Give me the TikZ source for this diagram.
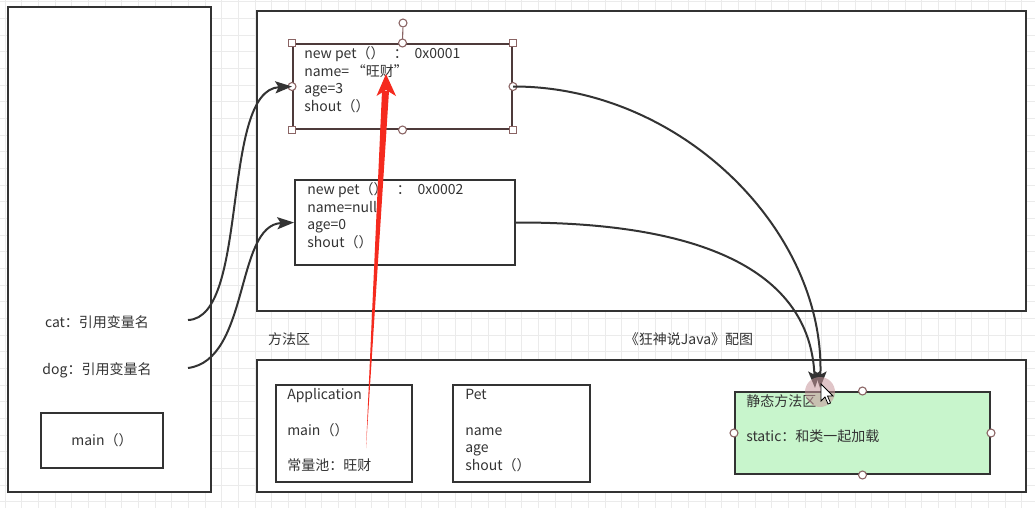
\documentclass[tikz,border=0pt]{standalone}
\usepackage{fontspec}
\setmainfont{Noto Sans CJK SC}
\usetikzlibrary{arrows.meta,fit}
\definecolor{ink}{HTML}{333333}
\definecolor{gridc}{HTML}{EBEBEB}
\definecolor{selc}{HTML}{4E3A3A}
\definecolor{handc}{HTML}{8A6464}
\definecolor{greenf}{RGB}{200,245,204}
\definecolor{redc}{HTML}{F52A1E}
\definecolor{pinkc}{RGB}{200,150,155}
\begin{document}
\begin{tikzpicture}[x=0.75pt,y=-0.75pt,
  font=\fontsize{10.5}{13.2}\selectfont, text=ink,
  box/.style={draw=ink, line width=1.5pt, fill=white, rectangle, inner sep=0pt},
  txt/.style={anchor=north west, inner sep=0pt, align=left},
  lbl/.style={inner sep=0pt},
  conn/.style={draw=ink, line width=1.5pt, -{Stealth[length=12.5pt,width=9pt,inset=2.5pt]}},
  handle/.style={draw=handc, fill=white, line width=0.8pt, circle, inner sep=0pt, minimum size=6pt},
  sqhandle/.style={draw=handc, fill=white, line width=0.8pt, rectangle, inner sep=0pt, minimum size=5.5pt},
]
\useasboundingbox (0,0) rectangle (1035,508);
\fill[white] (0,0) rectangle (1035,508);
% grid
\foreach \i in {0,...,62} {\draw[gridc, line width=0.75pt] ({5+\i*16.667},0) -- ({5+\i*16.667},508);}
\foreach \j in {0,...,30} {\draw[gridc, line width=0.75pt] (0,{1.67+\j*16.667}) -- (1035,{1.67+\j*16.667});}

% regions
\node[box, fit={(8,7)(211,492)}] (stack) {};
\node[box, fit={(257,11)(1026,311)}] (heap) {};
\node[box, fit={(257,360)(1026,492)}] (method) {};
\node[box, fit={(41,413)(163,468)}] (mainbox) {};
\node[box, draw=selc, fit={(293,44)(512,129)}] (obj1) {};
\node[box, fit={(295,180)(515,265)}] (obj2) {};
\node[box, fit={(276,385)(412,482)}] (app) {};
\node[box, fit={(453,385)(590,482)}] (pet) {};
\node[box, fill=greenf, fit={(735,392)(990,474)}] (static) {};

% texts
\node[lbl] (cat) at (97,322) {cat：引用变量名};
\node[lbl] (dog) at (97,370) {dog：引用变量名};
\node[lbl] (mainl) at (mainbox.center) {main（）};
\node[lbl] (ffq) at (289,339) {方法区};
\node[lbl] (title) at (689,339) {《狂神说Java》配图};
\node[txt] (o1t) at (304,46) {\strut new pet（）\hspace{7pt}：\hspace{5pt}0x0001\\name=\hspace{2pt}“旺财”\\age=3\\shout（）};
\node[txt] (o2t) at (307,182) {\strut new pet（）\hspace{7pt}：\hspace{5pt}0x0002\\name=null\\age=0\\shout（）};
\node[txt] (appt) at (287,387) {\strut Application\\[13.4pt]main（）\\[13.4pt]常量池：旺财};
\node[txt] (pett) at (465,387) {\strut Pet\\[13.4pt]name\\age\\shout（）};
\node[txt] (stt) at (746,394) {\strut 静态方法区\\[13.2pt]static：和类一起加载};

% selection handles of obj1
\node[handle] (rot) at (403,23) {};
\draw[handc, line width=0.8pt] (rot) -- (obj1.north);
\foreach \a in {north west,north east,south west,south east} {\node[sqhandle] at (obj1.\a) {};}
\foreach \a in {north,south,west,east} {\node[handle] at (obj1.\a) {};}
% handles of static box
\foreach \a in {north,south,west,east} {\node[handle] at (static.\a) {};}

% connectors
\coordinate (catE) at (188,320);
\coordinate (dogE) at (188,368);
\coordinate (tipA) at (820,388);
\coordinate (tipB) at (815,388);
\draw[conn] (catE) .. controls (250,318) and (220,90) .. (obj1.west);
\draw[conn] (dogE) .. controls (250,360) and (235,225) .. (obj2.west);
\draw[conn] (obj1.east) .. controls (680,86) and (825,230) .. (tipA);
\draw[conn] (obj2.east) .. controls (700,222) and (810,270) .. (tipB);

% red arrow
\coordinate (rs) at (366,448);
\coordinate (re) at (386,74);
\coordinate (rl) at (382,91);
\coordinate (rr) at (389,91);
\coordinate (hl) at (376.5,96);
\coordinate (hr) at (396,96);
\coordinate (hb) at (386,90);
\fill[redc] (rs) -- (rl) -- (rr) -- cycle;
\fill[redc] (re) -- (hr) -- (hb) -- (hl) -- cycle;

% pointer highlight and cursor
\fill[pinkc, opacity=0.55] (820,392) circle[radius=11.25pt];
\filldraw[fill=white, draw=black, line width=0.6pt] (821,384) -- ++(0,17) -- ++(4,-4) -- ++(3,7) -- ++(2.5,-1) -- ++(-3,-7) -- ++(5.5,0) -- cycle;
\end{tikzpicture}
\end{document}
